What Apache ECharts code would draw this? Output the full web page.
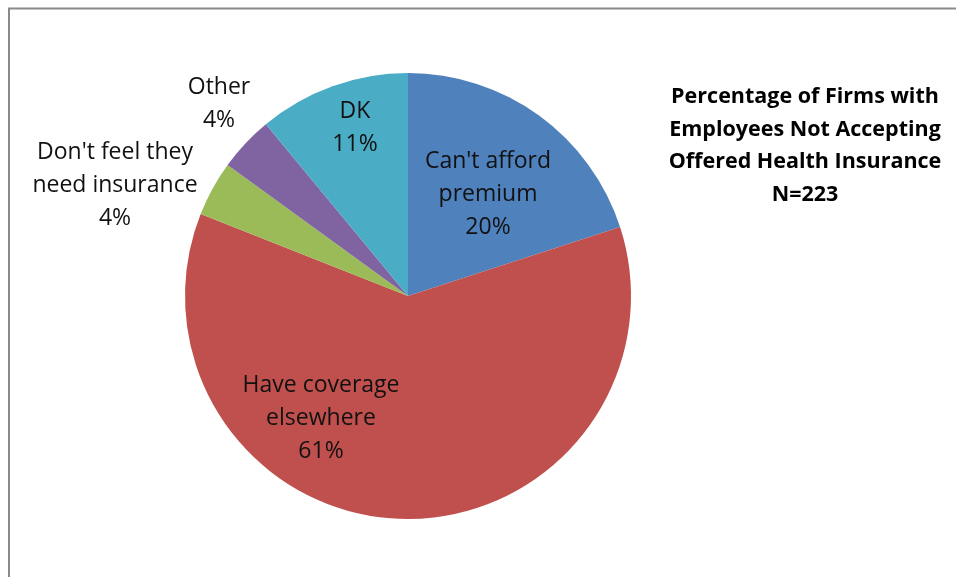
<!DOCTYPE html>
<html>
<head>
<meta charset="utf-8">
<script src="https://cdn.jsdelivr.net/npm/echarts@6/dist/echarts.min.js"></script>
<style>
  html, body { margin: 0; padding: 0; background: #fff; }
  #chart { width: 956px; height: 577px; }
</style>
</head>
<body>
<div id="chart"></div>
<script>
// Reasons employees turn down offered coverage (share of firms, %)
const categories = [
  "Can't afford\npremium",
  "Have coverage\nelsewhere",
  "Don't feel they\nneed insurance",
  "Other",
  "DK"
];
const shares = [20, 61, 4, 4, 11];
const sliceColors = ['#4F81BD', '#C0504D', '#9BBB59', '#8064A2', '#4BACC6'];
const titleLines = [
  'Percentage of Firms with',
  'Employees Not Accepting',
  'Offered Health Insurance',
  'N=223'
];

// Label anchor points (best-fit placement around the pie)
const labelSpots = [
  [488, 194],
  [321, 418],
  [115, 185],
  [219, 104],
  [355, 128]
];

const chart = echarts.init(document.getElementById('chart'), null, { renderer: 'canvas' });

chart.setOption({
  animation: false,
  backgroundColor: '#ffffff',
  title: {
    text: titleLines.join('\n'),
    left: 800,
    top: 76,
    textAlign: 'center',
    textStyle: {
      fontFamily: 'Open Sans',
      fontWeight: 'bold',
      fontSize: 21.5,
      lineHeight: 32.5,
      color: '#000'
    }
  },
  graphic: [{
    type: 'rect',
    silent: true,
    shape: { x: 9, y: 8.5, width: 1000, height: 1000 },
    style: { fill: 'none', stroke: '#8a8a8a', lineWidth: 2 }
  }],
  series: [{
    type: 'pie',
    center: [408, 296],
    radius: 223,
    startAngle: 90,
    clockwise: true,
    avoidLabelOverlap: false,
    data: categories.map((name, i) => ({
      name: name,
      value: shares[i],
      itemStyle: { color: sliceColors[i] }
    })),
    itemStyle: { borderWidth: 0 },
    label: {
      show: true,
      position: 'inside',
      formatter: '{b}\n{c}%',
      fontFamily: 'Open Sans',
      fontSize: 23,
      lineHeight: 33,
      color: '#111',
      align: 'center'
    },
    labelLine: { show: false },
    labelLayout: function (params) {
      const p = labelSpots[params.dataIndex];
      return { x: p[0], y: p[1], align: 'center', verticalAlign: 'middle' };
    },
    emphasis: { disabled: true }
  }]
});
</script>
</body>
</html>
